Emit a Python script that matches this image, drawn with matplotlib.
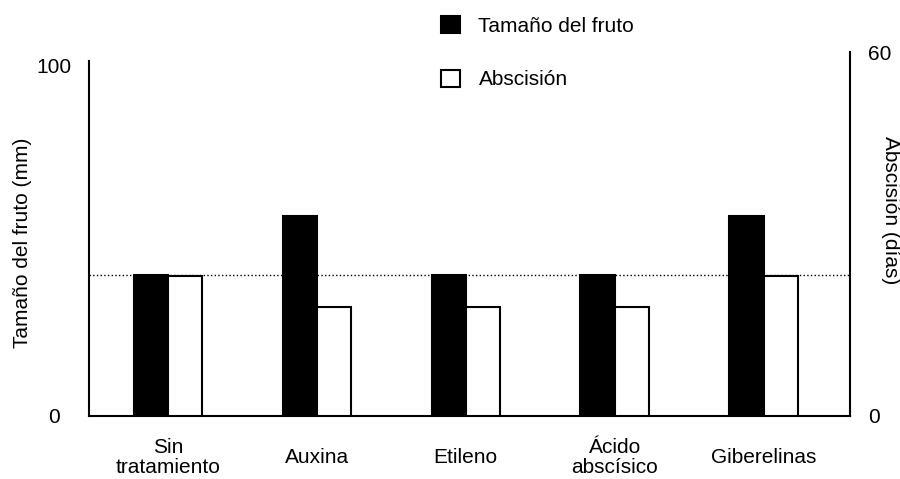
import matplotlib
matplotlib.use('Agg')
import matplotlib.pyplot as plt
from matplotlib.patches import Patch

plt.rcParams['font.family'] = ['Liberation Sans', 'DejaVu Sans']

categorias = ['Sin\ntratamiento', 'Auxina', 'Etileno', 'Ácido\nabscísico', 'Giberelinas']
tamano_mm = [40, 57, 40, 40, 57]      # eje izquierdo
abscision_dias = [23, 18, 18, 18, 23]  # eje derecho
referencia_mm = 40

W, H = 900, 479
fig = plt.figure(figsize=(W / 100, H / 100), dpi=100)
# ejes: izquierda x=89, derecha x=850, base y=415.7, arriba y=52 (px)
ax = fig.add_axes([89 / W, (H - 415.7) / H, (850 - 89) / W, (415.7 - 52) / H])
ax2 = ax.twinx()

x = list(range(len(categorias)))
bw = 0.23
fs = 15

ax.set_xlim(-0.53, 4.58)
ax.set_ylim(0, 100 * 363.7 / 350.7)
ax2.set_ylim(0, 60)

ax.axhline(referencia_mm, ls=':', color='black', lw=1, zorder=1)
ax.bar([i - bw / 2 for i in x], tamano_mm, width=bw, color='black', edgecolor='black', lw=1.5, zorder=2)
ax2.bar([i + bw / 2 for i in x], abscision_dias, width=bw, color='white', edgecolor='black', lw=1.5, zorder=2)

for a in (ax, ax2):
    a.spines['top'].set_visible(False)
    a.patch.set_visible(False)
ax.spines['right'].set_visible(False)
ax2.spines['left'].set_visible(False)
ax2.spines['bottom'].set_visible(False)
ax.spines['left'].set_bounds(0, 101.2)
for s in (ax.spines['left'], ax.spines['bottom'], ax2.spines['right']):
    s.set_linewidth(1.5)

ax.set_yticks([0, 100])
ax.tick_params(axis='y', length=0, pad=25, labelsize=fs)
for lab in ax.get_yticklabels():
    lab.set_ha('center')
ax2.set_yticks([0, 60])
ax2.tick_params(axis='y', length=0, pad=13, labelsize=fs)

ax.set_xticks(x, categorias)
ax.tick_params(axis='x', length=0, pad=30, labelsize=fs)
for lab in ax.get_xticklabels():
    lab.set_va('center')
    lab.set_linespacing(1.1)

ax.text(-0.088, 0.475, 'Tamaño del fruto (mm)', transform=ax.transAxes, rotation=90,
        ha='center', va='center', fontsize=fs)
ax.text(1.0526, 0.566, 'Abscisión (días)', transform=ax.transAxes, rotation=270,
        ha='center', va='center', fontsize=fs)

handles = [Patch(facecolor='black', edgecolor='black', lw=1.5),
           Patch(facecolor='white', edgecolor='black', lw=1.5)]
fig.legend(handles, ['Tamaño del fruto', 'Abscisión'], loc='upper left',
           bbox_to_anchor=(441 / W, 1 - 16 / H), frameon=False, fontsize=fs,
           handlelength=0.9, handleheight=0.9, handletextpad=0.9,
           labelspacing=1.62, borderpad=0, borderaxespad=0)

fig.savefig('out.png', dpi=100)
